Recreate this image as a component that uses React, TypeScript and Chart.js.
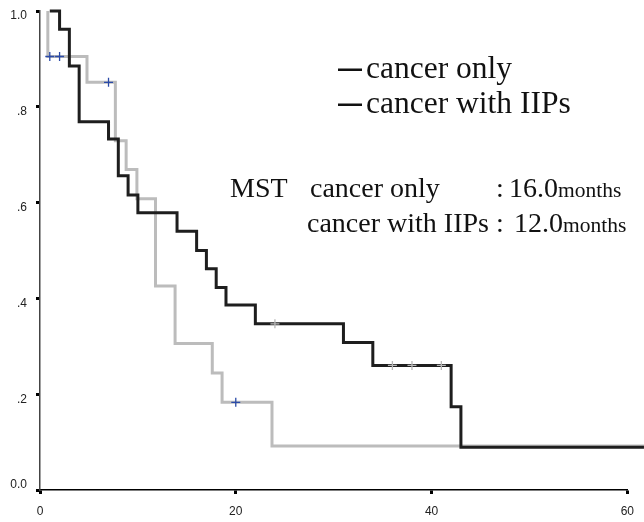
import React, { useEffect, useRef } from "react";
import { Chart, registerables } from "chart.js";

Chart.register(...registerables);

// cancer only (black curve)
const onlyTimes = [1, 2, 3, 4, 7, 8, 9, 10, 14, 16, 17, 18, 19, 22, 31, 34, 42, 43, 61.7];
const onlySurv = [1.0, 0.962, 0.885, 0.769, 0.733, 0.656, 0.616, 0.579, 0.54, 0.5, 0.462, 0.423, 0.386, 0.347, 0.308, 0.26, 0.174, 0.089, 0.089];
const onlyCensorTimes = [24, 36, 38, 41];
const onlyCensorSurv = [0.347, 0.26, 0.26, 0.26];

// cancer with IIPs (grey curve)
const iipTimes = [0.8, 0.8, 4.8, 7.7, 8.8, 9.9, 11.8, 13.8, 17.6, 18.6, 23.7, 61.7];
const iipSurv = [1.0, 0.905, 0.851, 0.729, 0.669, 0.608, 0.426, 0.306, 0.244, 0.183, 0.092, 0.092];
const iipCensorTimes = [1, 2, 7, 20];
const iipCensorSurv = [0.905, 0.905, 0.851, 0.183];

const xTickValues = [0, 20, 40, 60];
const xTickLabels = ["0", "20", "40", "60"];
const yTickValues = [0, 0.2, 0.4, 0.6, 0.8, 1.0];
const yTickLabels = ["0.0", ".2", ".4", ".6", ".8", "1.0"];

const legendLabels = ["cancer only", "cancer with IIPs"];
const mstGroups = ["cancer only", "cancer with IIPs"];
const mstValues = ["16.0", "12.0"];

const toPts = (xs: number[], ys: number[]) => xs.map((x, i) => ({ x, y: ys[i] }));

const SERIF = '"Liberation Serif", "Times New Roman", serif';
const SANS = '"Liberation Sans", Arial, sans-serif';

const overlay = {
  id: "overlay",
  afterDraw(chart: any) {
    const ctx = chart.ctx as CanvasRenderingContext2D;
    const ys = chart.scales.y;
    ctx.save();
    // y tick labels
    ctx.font = `12px ${SANS}`;
    ctx.fillStyle = "#222";
    ctx.textAlign = "right";
    ctx.textBaseline = "middle";
    yTickValues.forEach((v, i) => {
      const py = ys.getPixelForValue(v) + (v === 0 ? -5 : 5);
      ctx.fillText(yTickLabels[i], 27, py);
    });
    // legend
    ctx.textAlign = "left";
    ctx.textBaseline = "alphabetic";
    ctx.fillStyle = "#111";
    ctx.font = `31.5px ${SERIF}`;
    legendLabels.forEach((lab, i) => {
      const base = 78 + i * 35;
      ctx.fillRect(338, base - 9.5, 24, 2.5);
      ctx.fillText(lab, 366, base);
    });
    // MST
    const big = `28px ${SERIF}`;
    const small = `21.5px ${SERIF}`;
    const rows = [
      { base: 197, nameX: 310, colonX: 496, numX: 509 },
      { base: 232, nameX: 307, colonX: 496, numX: 514 },
    ];
    ctx.font = big;
    ctx.fillText("MST", 230, rows[0].base);
    rows.forEach((r, i) => {
      ctx.font = big;
      ctx.fillText(mstGroups[i], r.nameX, r.base);
      ctx.fillText(":", r.colonX, r.base);
      ctx.fillText(mstValues[i], r.numX, r.base);
      const end = r.numX + ctx.measureText(mstValues[i]).width;
      ctx.font = small;
      ctx.fillText("months", end, r.base);
    });
    ctx.restore();
  },
};

export default function App() {
  const ref = useRef<HTMLCanvasElement | null>(null);
  useEffect(() => {
    document.body.style.margin = "0";
    const cv = ref.current!;
    const chart = new Chart(cv, {
      type: "line",
      data: {
        datasets: [
          {
            data: toPts(onlyCensorTimes, onlyCensorSurv),
            showLine: false,
            pointStyle: "cross",
            pointRadius: 4.5,
            pointBorderWidth: 1.3,
            pointBorderColor: "#b8b8b8",
            pointBackgroundColor: "#b8b8b8",
            clip: false,
          } as any,
          {
            data: toPts(iipCensorTimes, iipCensorSurv),
            showLine: false,
            pointStyle: "cross",
            pointRadius: 4.5,
            pointBorderWidth: 1.3,
            pointBorderColor: "#2a4aa8",
            pointBackgroundColor: "#2a4aa8",
            clip: false,
          } as any,
          {
            data: toPts(onlyTimes, onlySurv),
            stepped: "before",
            borderColor: "#1e1e1e",
            borderWidth: 3,
            pointRadius: 0,
            fill: false,
            clip: false,
          } as any,
          {
            data: toPts(iipTimes, iipSurv),
            stepped: "before",
            borderColor: "#bcbcbc",
            borderWidth: 3,
            pointRadius: 0,
            fill: false,
            clip: false,
          } as any,
        ],
      },
      options: {
        animation: false,
        responsive: false,
        devicePixelRatio: 1,
        layout: { autoPadding: false, padding: { top: 11, right: 16, left: 0, bottom: 0 } },
        plugins: { legend: { display: false }, tooltip: { enabled: false } },
        scales: {
          x: {
            type: "linear",
            min: 0,
            max: 60,
            afterFit: (s: any) => { s.height = 32; },
            afterBuildTicks: (s: any) => { s.ticks = xTickValues.map((v) => ({ value: v })); },
            ticks: {
              font: { family: SANS, size: 12 },
              color: "#222",
              padding: 10,
              maxRotation: 0,
              callback: (v: any) => {
                const i = xTickValues.indexOf(Number(v));
                return i >= 0 ? xTickLabels[i] : "";
              },
            },
            grid: { drawOnChartArea: false, drawTicks: true, tickLength: 4, tickWidth: 3, tickColor: "#000" },
            border: { display: true, color: "#000", width: 1.5 },
          },
          y: {
            type: "linear",
            min: 0,
            max: 1,
            afterFit: (s: any) => { s.width = 40; },
            afterBuildTicks: (s: any) => { s.ticks = yTickValues.map((v) => ({ value: v })); },
            ticks: { display: false },
            grid: { drawOnChartArea: false, drawTicks: true, tickLength: 4, tickWidth: 3, tickColor: "#000" },
            border: { display: true, color: "#444", width: 1.5 },
          },
        },
      } as any,
      plugins: [overlay],
    });
    return () => chart.destroy();
  }, []);
  return (
    <div style={{ width: 644, height: 522 }}>
      <canvas ref={ref} width={644} height={522} style={{ display: "block", width: 644, height: 522 }} />
    </div>
  );
}
